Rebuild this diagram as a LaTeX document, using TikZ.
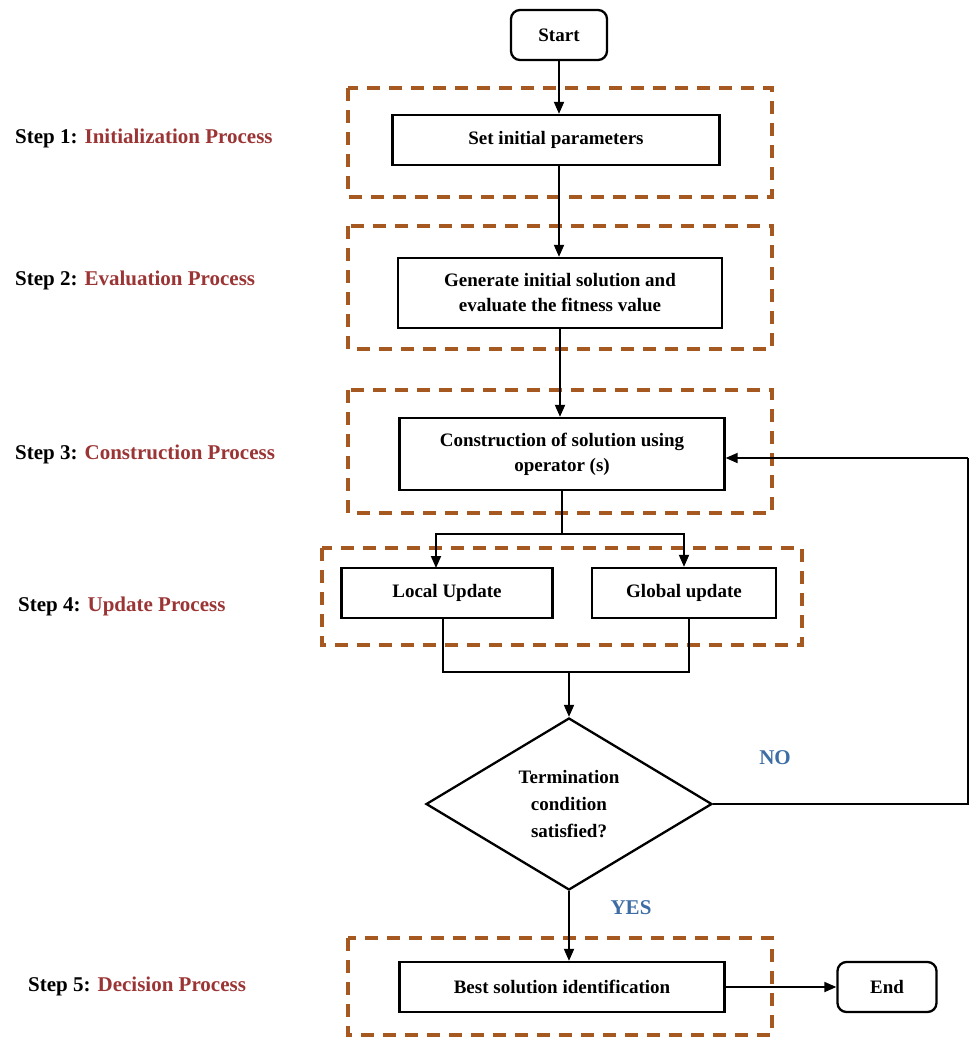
\documentclass[tikz,border=0pt]{standalone}
\usepackage{fontspec}
\setmainfont{Liberation Serif}
\usetikzlibrary{shapes.geometric,arrows.meta}

\definecolor{stepred}{HTML}{9B3535}
\definecolor{framebrown}{HTML}{A5581F}
\definecolor{answerblue}{HTML}{3E6DA6}

\begin{document}
\begin{tikzpicture}[x=1pt,y=-1pt,>={Triangle[length=12pt,width=10pt]}]
  \def\fs{\fontsize{19}{22}\selectfont\bfseries}
  \def\fl{\fontsize{21}{24}\selectfont\bfseries}

\tikzstyle{box}=[draw,line width=2.3pt,rectangle,minimum height=50pt,inner sep=2pt,align=center,font=\fs]
\tikzstyle{term}=[box,rounded corners=9pt]
\tikzstyle{frame}=[draw=framebrown,line width=3.4pt,dash pattern=on 13pt off 9pt]
\tikzstyle{steplabel}=[anchor=west,inner sep=0pt,font=\fl]
\tikzstyle{answer}=[font=\fl,text=answerblue]
\tikzstyle{link}=[line width=1.8pt]

\useasboundingbox (0,0) rectangle (970,1039);

% dashed frames
\draw[frame] (348,88) rectangle (772,197);
\draw[frame] (348,226) rectangle (772,349);
\draw[frame] (348,390) rectangle (772,513);
\draw[frame] (322,548) rectangle (802,645);
\draw[frame] (348,938) rectangle (772,1035);

% step labels
\node[steplabel] (L1) at (15,138) {Step 1: \textcolor{stepred}{Initialization Process}};
\node[steplabel] (L2) at (15,280) {Step 2: \textcolor{stepred}{Evaluation Process}};
\node[steplabel] (L3) at (15,454) {Step 3: \textcolor{stepred}{Construction Process}};
\node[steplabel] (L4) at (18,606) {Step 4: \textcolor{stepred}{Update Process}};
\node[steplabel] (L5) at (28,986) {Step 5: \textcolor{stepred}{Decision Process}};

% nodes
\node[term,minimum width=96pt] (S) at (559,35) {Start};
\node[box,minimum width=327pt] (P1) at (556,140) {Set initial parameters};
\node[box,minimum width=324pt,minimum height=70pt] (P2) at (560,293) {Generate initial solution and\\[3pt] evaluate the fitness value};
\node[box,minimum width=325pt,minimum height=72pt] (P3) at (562,454) {Construction of solution using\\[3pt] operator (s)};
\node[box,minimum width=211pt] (P4) at (447,593) {Local Update};
\node[box,minimum width=184pt] (P5) at (684,593) {Global update};
\node[draw,line width=2.3pt,diamond,minimum width=286pt,minimum height=172pt,inner sep=0pt,align=center,font=\fs] (D) at (569,804) {Termination\\[5pt] condition\\[5pt] satisfied?};
\node[box,minimum width=325pt] (P6) at (562,987) {Best solution identification};
\node[term,minimum width=99pt] (E) at (887,987) {End};

\node[answer] (NO) at (775,758) {NO};
\node[answer] (YES) at (631,908) {YES};

\coordinate (C1) at (562,534);
\coordinate (C2) at (569,672);
\coordinate (C3) at (968,804);
\coordinate (C4) at (968,458);

% connectors
\draw[link,->] (S) -- (P1.north -| S);
\draw[link,->] (P1.south -| S) -- (P2.north -| S);
\draw[link,->] (P2) -- (P3.north -| P2);
\draw[link] (P3) -- (C1);
\draw[link,->] (C1) -| (436,568);
\draw[link,->] (C1) -| (P5.north);
\draw[link] (P4.south -| 443,0) |- (C2);
\draw[link] (P5.south -| 689,0) |- (C2);
\draw[link,->] (C2) -- (D.north);
\draw[link] (D.east) -- (C3) -- (C4);
\draw[link,->] (C4) -- (P3.east |- C4);
\draw[link,->] (D.south) -- (P6.north -| D.south);
\draw[link,->] (P6) -- (E);
\end{tikzpicture}
\end{document}
